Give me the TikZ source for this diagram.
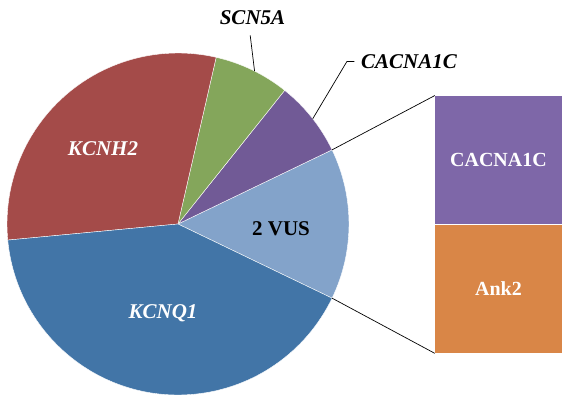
\documentclass[tikz,border=0pt]{standalone}
\usepackage{fontspec}
\setmainfont{Liberation Serif}
\usetikzlibrary{positioning}
\definecolor{pRed}{RGB}{164,75,73}
\definecolor{pGreen}{RGB}{132,166,91}
\definecolor{pPurple}{RGB}{113,90,150}
\definecolor{pLight}{RGB}{131,163,202}
\definecolor{pBlue}{RGB}{66,117,167}
\definecolor{bPurple}{RGB}{126,103,168}
\definecolor{bOrange}{RGB}{217,134,71}
\tikzset{
  slice/.style={draw=white, line width=0.4pt},
  gene/.style={inner sep=0pt, anchor=base, font=\fontsize{21}{25}\selectfont\bfseries\itshape},
  plain/.style={inner sep=0pt, anchor=base, font=\fontsize{21}{25}\selectfont\bfseries},
  leader/.style={black, line width=0.7pt},
  barbox/.style={minimum width=127pt, minimum height=128.5pt, inner sep=0pt, text=white,
                 font=\fontsize{20}{24}\selectfont\bfseries},
}

\begin{document}
\begin{tikzpicture}[x=1pt, y=1pt]
    \useasboundingbox (0,0) rectangle (563,-398);
    % pie
    \coordinate (pc) at (178,-224);
    \foreach \a/\b/\c in {-25.7/25.7/pLight, 25.7/51.4/pPurple, 51.4/77.1/pGreen,
                          77.1/185.4/pRed, 185.4/334.3/pBlue}
      \filldraw[slice, fill=\c] (pc) -- ++(\a:171pt) arc[start angle=\a, end angle=\b, radius=171pt] -- cycle;
    \path (pc) ++(63.4:171pt) coordinate (e1);
    \path (pc) ++(38:171pt) coordinate (e2);
    \path (pc) ++(25.7:171pt) coordinate (e3);
    \path (pc) ++(-25.7:171pt) coordinate (e4);
    % labels in the pie
    \node[gene, text=white] (kh) at (103,-156) {KCNH2};
    \node[gene, text=white] (kq) at (163,-318.3) {KCNQ1};
    \node[plain] (vus) at (281,-236) {2 VUS};
    % labels outside
    \node[gene] (scn) at (252.5,-25) {SCN5A};
    \node[gene] (cal) at (409,-68.3) {CACNA1C};
    \draw[leader, shorten <=10pt] ([xshift=-3.5pt]scn.south) -- (e1);
    \draw[leader, shorten <=6.5pt] (cal.west) -- ++(-14,0) -- (e2);
    % bar
    \node[barbox, fill=bPurple] (barc) at (498.5,-160) {CACNA1C};
    \node[barbox, fill=bOrange, below=0pt of barc] (bara) {Ank2};
    \draw[leader] (e3) -- (barc.north west);
    \draw[leader] (e4) -- (bara.south west);
\end{tikzpicture}
\end{document}
